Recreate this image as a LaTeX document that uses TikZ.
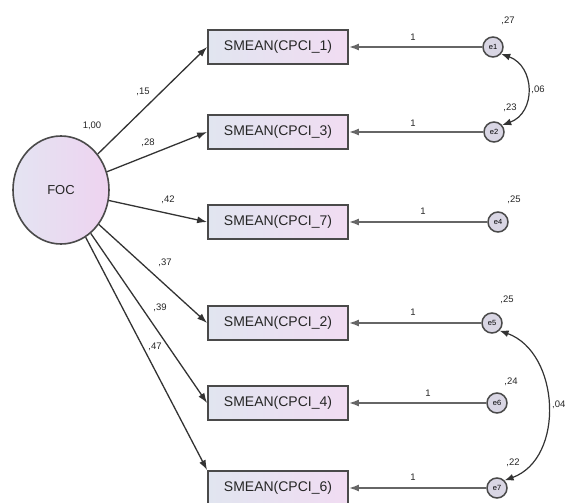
\documentclass[tikz,border=0pt]{standalone}
\usepackage{fontspec}
\setmainfont{Liberation Sans}
\usetikzlibrary{arrows.meta,shapes.geometric}
\definecolor{edgec}{HTML}{4A4A4A}
\definecolor{boxl}{HTML}{E1E5F0}
\definecolor{boxr}{HTML}{F1DCF2}
\definecolor{focl}{HTML}{E4E4F2}
\definecolor{focr}{HTML}{EED3F0}
\definecolor{errf}{HTML}{D9D6E4}
\begin{document}
\begin{tikzpicture}[x=1pt,y=1pt,
  obs/.style={draw=edgec, line width=1.8pt, left color=boxl, right color=boxr,
    minimum width=140pt, minimum height=34pt, inner sep=0pt, text=black!85,
    font=\fontsize{14}{16}\selectfont},
  lat/.style={ellipse, draw=edgec, line width=1.6pt, left color=focl, right color=focr,
    minimum width=96pt, minimum height=108pt, inner sep=0pt, text=black!85,
    font=\fontsize{13}{15}\selectfont},
  err/.style={circle, draw=edgec, line width=1.5pt, fill=errf, minimum size=20pt,
    inner sep=0pt, font=\fontsize{7.5}{8}\selectfont},
  load/.style={-{Latex[length=10pt,width=7pt]}, line width=1.3pt, draw=black!80},
  res/.style={-{Latex[length=10pt,width=7pt]}, line width=1.6pt, draw=black!60},
  cov/.style={{Latex[length=9pt,width=7pt]}-{Latex[length=9pt,width=7pt]}, line width=1.2pt, draw=black!80},
  lbl/.style={font=\fontsize{9.5}{10}\selectfont, inner sep=0pt, text=black!85}]
\useasboundingbox (0,0) rectangle (565,-503);

% latent
\node[lat] (foc) at (61,-190) {FOC};

% observed
\node[obs] (b1) at (278,-47)  {SMEAN(CPCI\_1)};
\node[obs] (b3) at (278,-132) {SMEAN(CPCI\_3)};
\node[obs] (b7) at (278,-222) {SMEAN(CPCI\_7)};
\node[obs] (b2) at (278,-323) {SMEAN(CPCI\_2)};
\node[obs] (b4) at (278,-403) {SMEAN(CPCI\_4)};
\node[obs] (b6) at (278,-488) {SMEAN(CPCI\_6)};

% errors
\node[err] (e1) at (493,-47)  {e1};
\node[err] (e2) at (494,-132) {e2};
\node[err] (e4) at (498,-222) {e4};
\node[err] (e5) at (492,-323) {e5};
\node[err] (e6) at (497,-403) {e6};
\node[err] (e7) at (497,-488) {e7};

% loadings
\draw[load] (foc) -- (b1.west);
\draw[load] (foc) -- (b3.west);
\draw[load] (foc) -- (b7.west);
\draw[load] (foc) -- (b2.west);
\draw[load] (foc) -- (b4.west);
\draw[load] (foc) -- (b6.north west);

% residual paths
\draw[res] (e1) -- (b1);
\draw[res] (e2) -- (b3);
\draw[res] (e4) -- (b7);
\draw[res] (e5) -- (b2);
\draw[res] (e6) -- (b4);
\draw[res] (e7) -- (b6);

% covariances
\draw[cov] (e1.-40) to[out=-20,in=20,looseness=1.3] (e2.40);
\draw[cov] (e5.-45) to[out=-20,in=20,looseness=1.1] (e7.45);

% labels
\node[lbl] (l100) at (92,-126) {1,00};
\node[lbl] (l15) at (143,-92) {,15};
\node[lbl] (l28) at (148,-143) {,28};
\node[lbl] (l42) at (168,-200) {,42};
\node[lbl] (l37) at (165,-263) {,37};
\node[lbl] (l39) at (160,-308) {,39};
\node[lbl] (l47) at (155,-347) {,47};

\node[lbl] (o1) at (413,-37) {1};
\node[lbl] (o3) at (413,-123) {1};
\node[lbl] (o7) at (423,-211) {1};
\node[lbl] (o2) at (413,-312) {1};
\node[lbl] (o4) at (428,-393) {1};
\node[lbl] (o6) at (413,-477) {1};

\node[lbl] (v1) at (508,-21) {,27};
\node[lbl] (v2) at (510,-108) {,23};
\node[lbl] (c12) at (538,-90) {,06};
\node[lbl] (v4) at (514,-200) {,25};
\node[lbl] (v5) at (507,-300) {,25};
\node[lbl] (v6) at (511,-382) {,24};
\node[lbl] (v7) at (513,-463) {,22};
\node[lbl, anchor=west] (c57) at (552,-405) {,04};
\end{tikzpicture}
\end{document}
